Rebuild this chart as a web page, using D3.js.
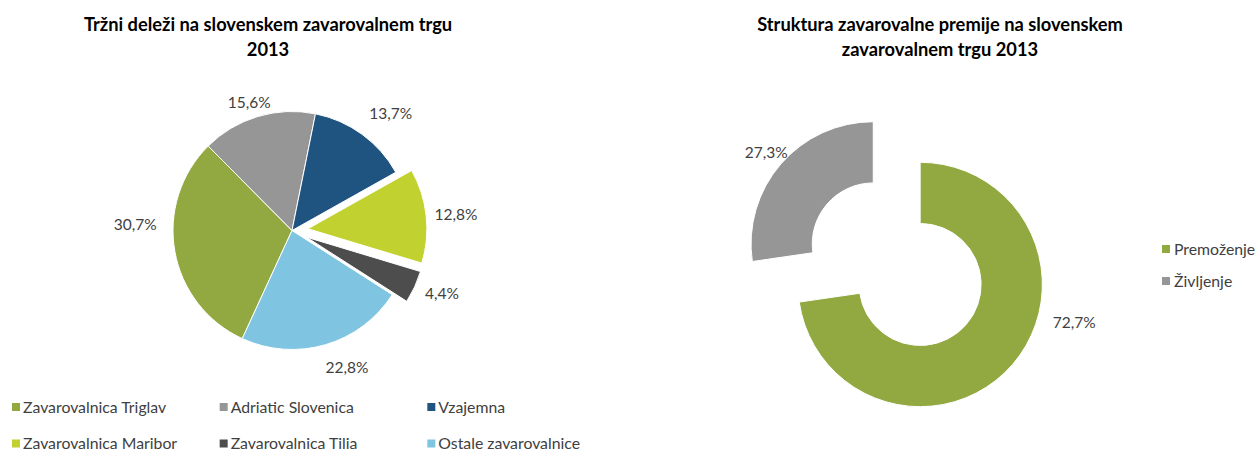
<!DOCTYPE html>
<html><head><meta charset="utf-8">
<script src="https://cdn.jsdelivr.net/npm/d3@7/dist/d3.min.js"></script>
<style>
body{margin:0;background:#fff}
svg{display:block;font-family:Lato,"Open Sans",sans-serif}
</style></head><body>
<svg id="chart" width="1259" height="451"></svg>
<script>
// ── data ───────────────────────────────────────────────────────────────────
const shareNames  = ['Zavarovalnica Triglav','Adriatic Slovenica','Vzajemna','Zavarovalnica Maribor','Zavarovalnica Tilia','Ostale zavarovalnice'];
const shareValues = [30.7, 15.6, 13.7, 12.8, 4.4, 22.8];
const shareExploded = ['Zavarovalnica Maribor','Zavarovalnica Tilia'];
const premiumNames  = ['Premoženje','Življenje'];
const premiumValues = [72.7, 27.3];
const titleLeft  = ['Tržni deleži na slovenskem zavarovalnem trgu','2013'];
const titleRight = ['Struktura zavarovalne premije na slovenskem','zavarovalnem trgu 2013'];

// ── style ──────────────────────────────────────────────────────────────────
const shareColors   = ['#91a940','#969696','#1f5380','#c1d230','#4d4d4d','#7fc4e0'];
const premiumColors = ['#91a940','#969696'];
const LABEL_FS = 15.5, LEGEND_FS = 15.8, TITLE_FS = 18.3;
// hand-moved labels in the original
const shareNudge   = { 'Zavarovalnica Triglav':[-10,-29], 'Vzajemna':[11,-9], 'Ostale zavarovalnice':[13,8] };
const premiumNudge = { 'Premoženje':[39,-52], 'Življenje':[8,-2] };

const svg = d3.select('#chart');
const fmt = v => d3.format('.1f')(v).replace('.', ',') + '%';
const deg = d => d * Math.PI / 180;

function title(lines, cx) {
  svg.append('text').attr('x', cx).attr('y', 31)
    .attr('text-anchor','middle').attr('font-weight','bold').attr('font-size',TITLE_FS).attr('fill','#000')
    .selectAll('tspan').data(lines).join('tspan')
    .attr('x', cx).attr('dy', (d, i) => i ? 25 : 0).text(d => d);
}

// outside-end label: anchor just beyond the arc, box pushed outward
function labelPos(a, cx, cy, r, gap, nudge) {
  const m = (a.startAngle + a.endAngle) / 2, s = Math.sin(m), c = -Math.cos(m);
  const hw = 22, hh = 7;
  return [cx + (r + gap) * s + hw * s + (nudge ? nudge[0] : 0),
          cy + (r + gap) * c + hh * c + (nudge ? nudge[1] : 0)];
}

// ── left pie ───────────────────────────────────────────────────────────────
title(titleLeft, 268);
{
  const cx = 292, cy = 230.5, r = 119, boom = 16;
  const start = deg(204.7);
  const pie = d3.pie().sort(null).startAngle(start).endAngle(start + 2 * Math.PI);
  const arcs = pie(shareValues);
  const arc = d3.arc().innerRadius(0).outerRadius(r);
  const color = d3.scaleOrdinal(shareNames, shareColors);
  const g = svg.append('g');
  arcs.forEach((a, i) => {
    const name = shareNames[i];
    const off = shareExploded.includes(name) ? boom : 0;
    const m = (a.startAngle + a.endAngle) / 2;
    const ox = cx + off * Math.sin(m), oy = cy - off * Math.cos(m);
    g.append('path').attr('d', arc(a)).attr('transform', `translate(${ox},${oy})`)
      .attr('fill', color(name)).attr('stroke', '#fff').attr('stroke-width', 1);
    const [lx, ly] = labelPos(a, ox, oy, r, 8, shareNudge[name]);
    g.append('text').attr('x', lx).attr('y', ly).attr('dy', '0.35em')
      .attr('text-anchor', 'middle').attr('font-size', LABEL_FS).attr('fill', '#404040')
      .text(fmt(shareValues[i]));
  });
  // legend 3 x 2
  const lx = d3.scaleBand().domain([0,1,2]).range([12, 635]);
  const ly = d3.scaleBand().domain([0,1]).range([389, 462]);
  const lg = svg.append('g').selectAll('g').data(shareNames).join('g')
    .attr('transform', (d, i) => `translate(${lx(i % 3)},${ly(Math.floor(i / 3)) + 18})`);
  lg.append('rect').attr('x', 0).attr('y', -4).attr('width', 8).attr('height', 8).attr('fill', d => color(d));
  lg.append('text').attr('x', 11).attr('dy', '0.35em').attr('font-size', LEGEND_FS).attr('fill', '#404040').text(d => d);
}

// ── right doughnut ─────────────────────────────────────────────────────────
title(titleRight, 940);
{
  const cx = 896.7, cy = 264.2, r = 122.2, r0 = 61, boom = 31;
  const pie = d3.pie().sort(null);
  const arcs = pie(premiumValues);
  const arc = d3.arc().innerRadius(r0).outerRadius(r);
  const color = d3.scaleOrdinal(premiumNames, premiumColors);
  const g = svg.append('g');
  arcs.forEach((a, i) => {
    const name = premiumNames[i];
    const m = (a.startAngle + a.endAngle) / 2;
    const ox = cx + boom * Math.sin(m), oy = cy - boom * Math.cos(m);
    g.append('path').attr('d', arc(a)).attr('transform', `translate(${ox},${oy})`)
      .attr('fill', color(name)).attr('stroke', '#fff').attr('stroke-width', 1);
    const [tx, ty] = labelPos(a, ox, oy, r, 8, premiumNudge[name]);
    g.append('text').attr('x', tx).attr('y', ty).attr('dy', '0.35em')
      .attr('text-anchor', 'middle').attr('font-size', LABEL_FS).attr('fill', '#404040')
      .text(fmt(premiumValues[i]));
  });
  const ly = d3.scaleBand().domain(premiumNames).range([233, 297]);
  const lg = svg.append('g').selectAll('g').data(premiumNames).join('g')
    .attr('transform', d => `translate(1162,${ly(d) + ly.bandwidth() / 2})`);
  lg.append('rect').attr('x', 0).attr('y', -4).attr('width', 8).attr('height', 8).attr('fill', d => color(d));
  lg.append('text').attr('x', 12).attr('dy', '0.35em').attr('font-size', LEGEND_FS).attr('fill', '#404040').text(d => d);
}
</script>
</body></html>
